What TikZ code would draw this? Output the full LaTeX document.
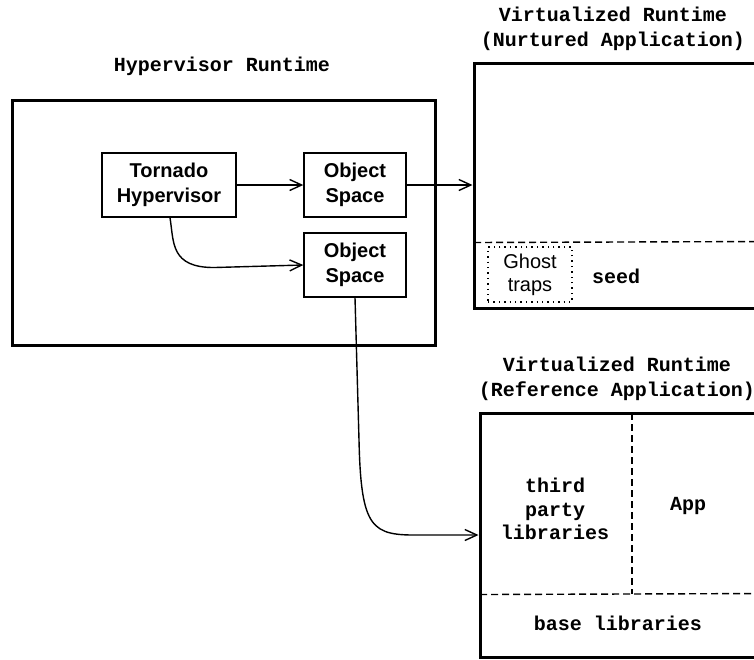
\documentclass[tikz,border=0pt]{standalone}
\usepackage{fontspec}
\setmainfont{Liberation Sans}
\newfontfamily\courfont{Liberation Mono}
\usetikzlibrary{arrows.meta}
\begin{document}
\begin{tikzpicture}[x=1pt,y=-1pt,
  bigbox/.style={draw, line width=3pt, inner sep=0pt},
  smallbox/.style={draw, line width=1.4pt, minimum width=102pt, minimum height=64pt, inner sep=0pt,
     font=\fontsize{20}{25}\selectfont\bfseries, align=center},
  title/.style={font=\fontsize{20}{24.5}\selectfont\courfont\bfseries, align=center},
  mono/.style={font=\fontsize{20}{23.5}\selectfont\courfont\bfseries, align=center},
  conn/.style={line width=1.4pt, -{Straight Barb[length=12pt,width=11pt,line width=1.4pt]}},
  dashline/.style={line width=1.4pt, dash pattern=on 7pt off 4pt},
  dotline/.style={line width=1.4pt, dash pattern=on 1.4pt off 4pt}]
\useasboundingbox (0,0) rectangle (754,659);
\clip (0,0) rectangle (754,659);

% Hypervisor runtime
\node[title] (hyptitle) at (222,66) {Hypervisor Runtime};
\node[bigbox, minimum width=423pt, minimum height=245pt] (hyp) at (223.5,222.5) {};
\node[smallbox, minimum width=134pt] (torn) at (169,185) {Tornado\\Hypervisor};
\node[smallbox] (os1) at (355,185) {Object\\Space};
\node[smallbox] (os2) at (355,265) {Object\\Space};

% Nurtured application
\node[title] (nurttitle) at (613,29) {Virtualized Runtime\\(Nurtured Application)};
\node[bigbox, minimum width=296pt, minimum height=245pt] (nurt) at (622,185.5) {};
\coordinate (nd1) at (474,242.5);
\coordinate (nd2) at (770,241.5);
\draw[dashline] (nd1) -- (nd2);
\node[draw, dotline, minimum width=84pt, minimum height=55pt, inner sep=0pt,
  font=\fontsize{20}{23}\selectfont, align=center] (ghost) at (530,274.5) {Ghost\\traps};
\node[mono] (seed) at (616,276) {seed};

% Reference application
\node[title] (reftitle) at (617,379) {Virtualized Runtime\\(Reference Application)};
\node[bigbox, minimum width=290pt, minimum height=244pt] (ref) at (625,535) {};
\coordinate (rv1) at (632,413);
\coordinate (rv2) at (632,594);
\coordinate (rh1) at (480,594.5);
\coordinate (rh2) at (770,593.5);
\draw[dashline] (rv1) -- (rv2);
\draw[dashline] (rh1) -- (rh2);
\node[mono] (third) at (555,509) {third\\party\\libraries};
\node[mono] (app) at (688,506) {App};
\node[mono] (base) at (618,623) {base libraries};

% connectors
\draw[conn] (torn.east) -- (os1.west);
\draw[conn] (os1.east) -- (os1.east -| nurt.west);
\draw[conn] ([xshift=1pt]torn.south) .. controls (174,242) and (170,268) .. (215,267.5) -- (os2.west);
\draw[conn] (os2.south) -- (359,440) .. controls (361,530) and (372,535.5) .. (420,535) -- (ref.west);
\end{tikzpicture}
\end{document}
